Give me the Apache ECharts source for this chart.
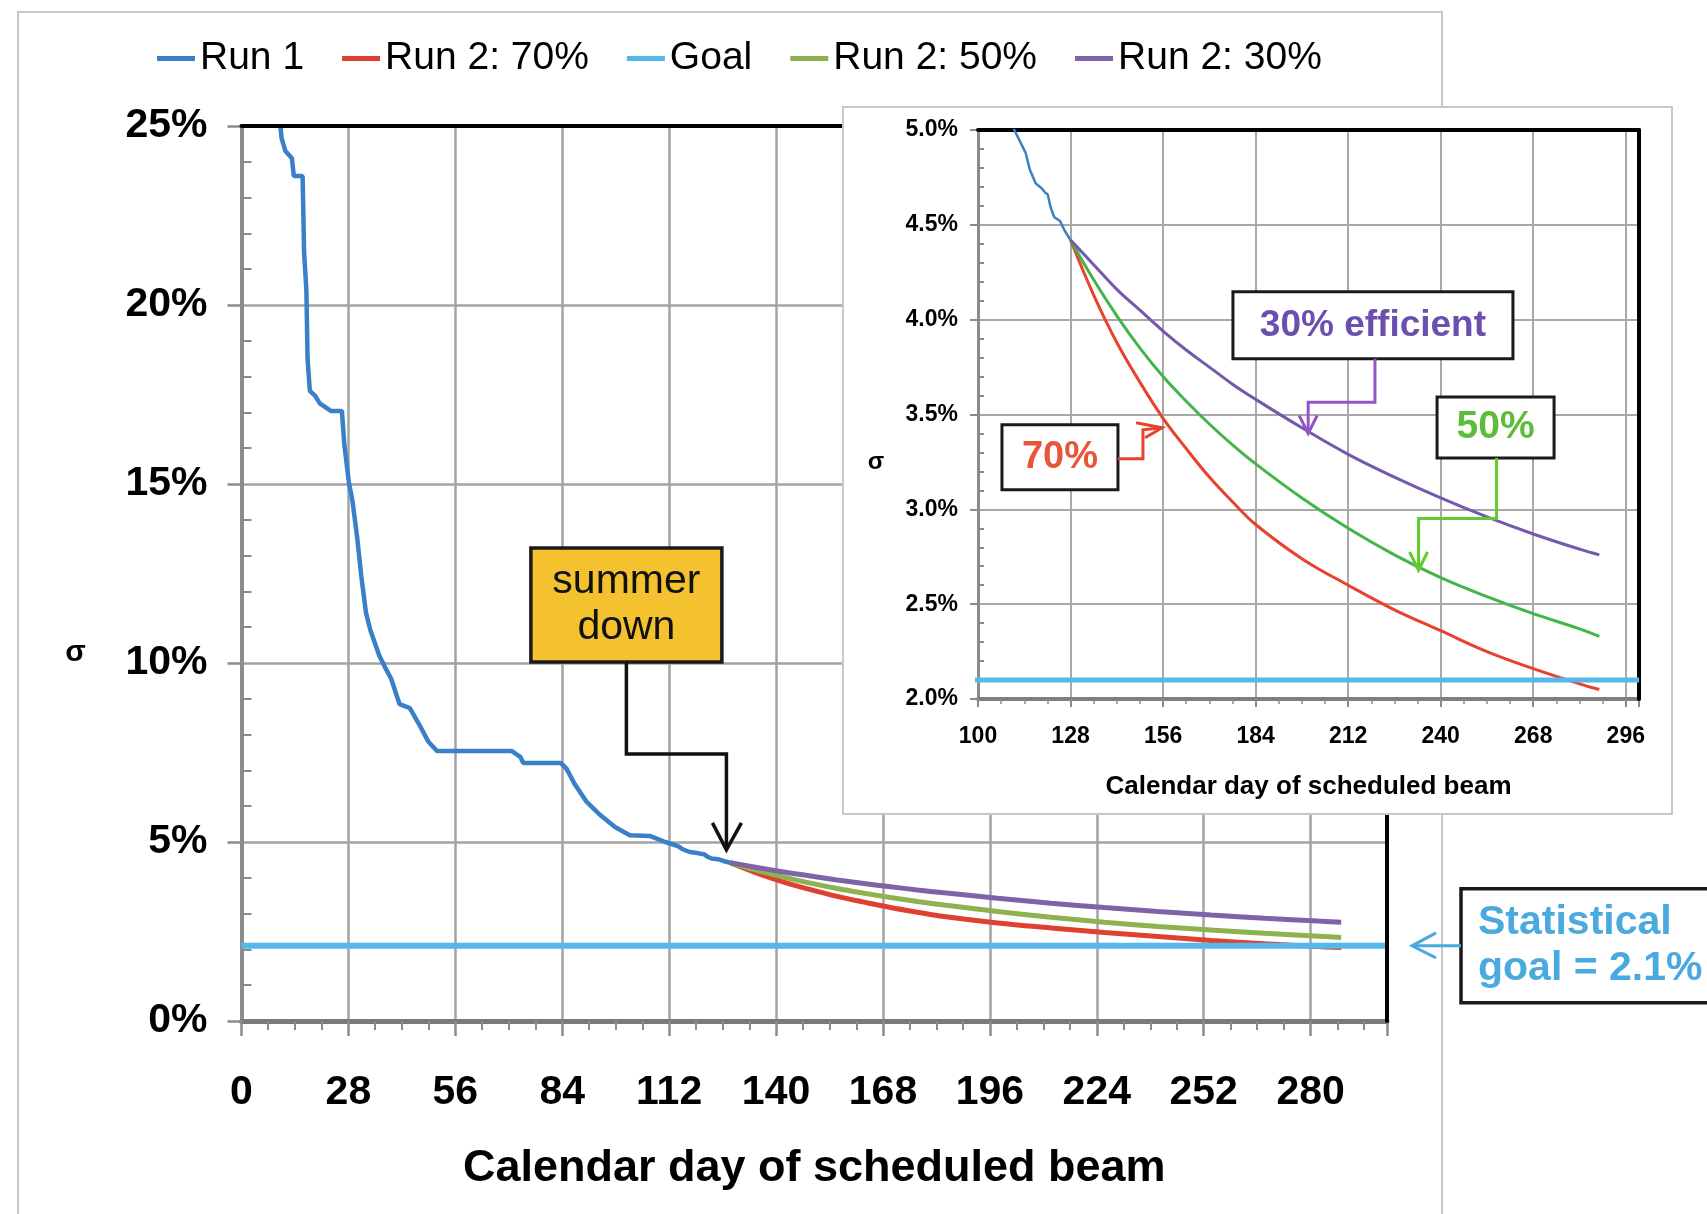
<!DOCTYPE html>
<html><head><meta charset="utf-8">
<script src="https://cdn.jsdelivr.net/npm/echarts@6/dist/echarts.min.js"></script>
<style>html,body{margin:0;padding:0;background:#fff}#c{width:1707px;height:1214px}</style>
</head><body><div id="c"></div>
<script>
// ---------------- data ----------------
const legendNames = ['Run 1', 'Run 2: 70%', 'Goal', 'Run 2: 50%', 'Run 2: 30%'];
const run1Days = [10.2,10.5,11.5,13.2,13.7,16.0,16.4,17.0,17.3,17.9,19.3,20.5,23.4,26.3,26.9,28.1,29.1,30.3,31.4,32.6,33.8,36.1,37.5,39.2,41.4,44.1,46.7,48.9,51.2,70.8,73.0,73.8,83.6,85.1,87.3,90.4,94.1,97.9,101.7,106.9,111.0,112.7,114.4,115.7,117.4,119.4,120.3,121.1,122.0,123.1,124.8,126.2,128.0];
const run1Pct  = [25.0,24.66,24.3,24.1,23.6,23.6,21.46,20.4,18.5,17.6,17.46,17.25,17.04,17.04,16.13,15.06,14.5,13.5,12.4,11.4,10.9,10.2,9.9,9.56,8.85,8.74,8.25,7.81,7.54,7.54,7.38,7.21,7.21,7.05,6.61,6.12,5.74,5.41,5.19,5.17,5.0,4.94,4.88,4.79,4.72,4.69,4.67,4.66,4.59,4.54,4.52,4.47,4.42];
const projDays = [128,135,142,149,156,163,170,177,184,198,212,226,240,254,268,282,288];
const run2_70  = [4.42,4.13,3.88,3.67,3.48,3.32,3.17,3.04,2.92,2.74,2.60,2.47,2.36,2.25,2.16,2.08,2.05];
const run2_50  = [4.42,4.21,4.02,3.85,3.70,3.57,3.45,3.34,3.24,3.06,2.90,2.76,2.64,2.54,2.45,2.37,2.33];
const run2_30  = [4.42,4.29,4.16,4.05,3.94,3.84,3.75,3.66,3.58,3.43,3.29,3.17,3.06,2.96,2.87,2.79,2.76];
const goalDays = [0, 300];
const goalPct  = [2.1, 2.1];
const mainXTicks  = [0,28,56,84,112,140,168,196,224,252,280];
const mainYTicks  = [0,5,10,15,20,25];
const insetXTicks = [100,128,156,184,212,240,268,296];
const insetYTicks = [2.0,2.5,3.0,3.5,4.0,4.5,5.0];

// ---------------- helpers ----------------
const zip = (a, b) => a.map((v, i) => [v, b[i]]);
function measure(fam){
  const c = document.createElement('canvas').getContext('2d');
  c.font = 'bold 50px ' + fam;
  return c.measureText('Calendar day of scheduled beam 0123456789%').width;
}
const NARROW = Math.abs(measure('"Liberation Sans Narrow", monospace') - measure('monospace')) > 2;
const MAINF = NARROW ? '"Liberation Sans Narrow", "Liberation Sans", sans-serif' : '"Liberation Sans", sans-serif';
const SANS = '"Liberation Sans", Arial, sans-serif';
const mainTickSize = NARROW ? 50 : 41;
const mainNameSize = NARROW ? 54 : 45;

const C = {run1:'#3a80c9', red:'#e0402f', goal:'#55b8ea', green:'#8db24f', purple:'#7f63a7',
           iRed:'#e8412c', iGreen:'#43b54b', iPurple:'#7459ad'};

const mainX = [0, 300], mainY = [0, 25], insetX = [100, 300], insetY = [2.0, 5.0];
const gridLine = {color:'#a3a3a3', width:2.5};
const SM = {smooth:0.4};

function borderAxis(kind, grid, pos, ext, interval){
  return {type:'value', gridIndex:grid, position:pos, min:ext[0], max:ext[1], interval:interval, z:3,
    axisLine:{show:true, onZero:false, lineStyle:{color:'#000', width:4}},
    axisTick:{show:false}, axisLabel:{show:false}, splitLine:{show:false}};
}
function minorInner(grid, ext, interval, len){
  return {type:'value', gridIndex:grid, position:'left', min:ext[0], max:ext[1], interval:interval, z:3,
    axisLine:{show:false, onZero:false}, axisTick:{show:false, inside:true},
    minorTick:{show:true, splitNumber:5, length:len, lineStyle:{color:'#8a8a8a', width:2}},
    axisLabel:{show:false}, splitLine:{show:false}};
}

const option = {
  animation:false,
  backgroundColor:'#fff',
  legend:{data:legendNames, left:152, top:34, itemWidth:38, itemHeight:5, itemGap:38, icon:'rect',
    selectedMode:false, textStyle:{fontFamily:SANS, fontSize:39, color:'#000'}},
  grid:[
    {left:241.5, top:126, width:1145.5, height:895, outerBoundsMode:'none', containLabel:false},
    {left:978, top:130, width:661, height:569, outerBoundsMode:'none', containLabel:false, z:6}
  ],
  xAxis:[
    {type:'value', gridIndex:0, position:'bottom', min:mainX[0], max:mainX[1], interval:mainXTicks[1]-mainXTicks[0],
      axisLine:{show:true, onZero:false, lineStyle:{color:'#7a7a7a', width:5}},
      axisTick:{show:true, length:15, lineStyle:{color:'#8c8c8c', width:2.5}},
      minorTick:{show:true, splitNumber:4, length:9, lineStyle:{color:'#8c8c8c', width:2}},
      splitLine:{show:true, lineStyle:gridLine},
      axisLabel:{formatter:v => mainXTicks.includes(v) ? String(v) : '', showMaxLabel:false,
        fontFamily:MAINF, fontWeight:'bold', fontSize:mainTickSize, color:'#000', margin:51},
      name:'Calendar day of scheduled beam', nameLocation:'middle', nameGap:125,
      nameTextStyle:{fontFamily:MAINF, fontWeight:'bold', fontSize:mainNameSize, color:'#000'}},
    borderAxis('x', 0, 'top', mainX, 28),
    {type:'value', gridIndex:1, position:'bottom', min:insetX[0], max:insetX[1], interval:insetXTicks[1]-insetXTicks[0], z:6,
      axisLine:{show:true, onZero:false, lineStyle:{color:'#7f7f7f', width:4}},
      axisTick:{show:true, length:8, lineStyle:{color:'#8c8c8c', width:2}},
      minorTick:{show:true, splitNumber:4, length:5, lineStyle:{color:'#8c8c8c', width:1.5}},
      splitLine:{show:true, lineStyle:{color:'#a8a8a8', width:2}},
      axisLabel:{formatter:v => insetXTicks.includes(v) ? String(v) : '', showMaxLabel:false,
        fontFamily:SANS, fontWeight:'bold', fontSize:23, color:'#000', margin:26},
      name:'Calendar day of scheduled beam', nameLocation:'middle', nameGap:75,
      nameTextStyle:{fontFamily:SANS, fontWeight:'bold', fontSize:26, color:'#000'}},
    Object.assign(borderAxis('x', 1, 'top', insetX, 28), {z:7})
  ],
  yAxis:[
    {type:'value', gridIndex:0, position:'left', min:mainY[0], max:mainY[1], interval:mainYTicks[1]-mainYTicks[0],
      axisLine:{show:true, onZero:false, lineStyle:{color:'#8c8c8c', width:4}},
      axisTick:{show:true, length:14, lineStyle:{color:'#8c8c8c', width:2.5}},
      splitLine:{show:true, lineStyle:gridLine},
      axisLabel:{formatter:v => v + '%', fontFamily:MAINF, fontWeight:'bold', fontSize:mainTickSize, color:'#000', margin:34}},
    minorInner(0, mainY, 5, 10),
    borderAxis('y', 0, 'right', mainY, 5),
    {type:'value', gridIndex:1, position:'left', min:insetY[0], max:insetY[1], interval:insetYTicks[1]-insetYTicks[0], z:6,
      axisLine:{show:true, onZero:false, lineStyle:{color:'#8c8c8c', width:3}},
      axisTick:{show:true, length:8, lineStyle:{color:'#8c8c8c', width:2}},
      splitLine:{show:true, lineStyle:{color:'#a8a8a8', width:2}},
      axisLabel:{formatter:v => v.toFixed(1) + '%', fontFamily:SANS, fontWeight:'bold', fontSize:23, color:'#000', margin:20}},
    Object.assign(minorInner(1, insetY, 0.5, 6), {z:7}),
    Object.assign(borderAxis('y', 1, 'right', insetY, 0.5), {z:7})
  ],
  series:[
    {name:'Run 1', type:'line', xAxisIndex:0, yAxisIndex:0, data:zip(run1Days, run1Pct), symbol:'none',
      lineStyle:{color:C.run1, width:4.5}, itemStyle:{color:C.run1}, z:2},
    Object.assign({name:'Run 2: 70%', type:'line', xAxisIndex:0, yAxisIndex:0, data:zip(projDays, run2_70), symbol:'none',
      lineStyle:{color:C.red, width:5}, itemStyle:{color:C.red}, z:2}, SM),
    {name:'Goal', type:'line', xAxisIndex:0, yAxisIndex:0, data:zip(goalDays, goalPct), symbol:'none',
      lineStyle:{color:C.goal, width:6}, itemStyle:{color:C.goal}, z:2},
    Object.assign({name:'Run 2: 50%', type:'line', xAxisIndex:0, yAxisIndex:0, data:zip(projDays, run2_50), symbol:'none',
      lineStyle:{color:C.green, width:5}, itemStyle:{color:C.green}, z:2}, SM),
    Object.assign({name:'Run 2: 30%', type:'line', xAxisIndex:0, yAxisIndex:0, data:zip(projDays, run2_30), symbol:'none',
      lineStyle:{color:C.purple, width:5}, itemStyle:{color:C.purple}, z:2}, SM),
    // inset
    {name:'Run 1', type:'line', xAxisIndex:2, yAxisIndex:3, data:zip(run1Days, run1Pct), symbol:'none', clip:true,
      lineStyle:{color:C.run1, width:2.5}, itemStyle:{color:C.run1}, z:8},
    Object.assign({name:'Run 2: 70%', type:'line', xAxisIndex:2, yAxisIndex:3, data:zip(projDays, run2_70), symbol:'none', clip:true,
      lineStyle:{color:C.iRed, width:3}, itemStyle:{color:C.iRed}, z:8}, SM),
    {name:'Goal', type:'line', xAxisIndex:2, yAxisIndex:3, data:zip(goalDays, goalPct), symbol:'none', clip:true,
      lineStyle:{color:C.goal, width:5}, itemStyle:{color:C.goal}, z:8},
    Object.assign({name:'Run 2: 50%', type:'line', xAxisIndex:2, yAxisIndex:3, data:zip(projDays, run2_50), symbol:'none', clip:true,
      lineStyle:{color:C.iGreen, width:3}, itemStyle:{color:C.iGreen}, z:8}, SM),
    Object.assign({name:'Run 2: 30%', type:'line', xAxisIndex:2, yAxisIndex:3, data:zip(projDays, run2_30), symbol:'none', clip:true,
      lineStyle:{color:C.iPurple, width:3}, itemStyle:{color:C.iPurple}, z:8}, SM)
  ]
};

const chart = echarts.init(document.getElementById('c'), null, {renderer:'canvas'});
chart.setOption(option);

// ---------------- annotations (anchored to data coordinates) ----------------
const P0 = (d, p) => chart.convertToPixel({gridIndex:0}, [d, p]);
const P1 = (d, p) => chart.convertToPixel({gridIndex:1}, [d, p]);
const G = [];
const line = (pts, color, w, z) => G.push({type:'polyline', silent:true, z:z, shape:{points:pts}, style:{stroke:color, lineWidth:w, fill:null, lineJoin:'miter'}});
const box = (cx, cy, w, h, fill, stroke, lw, z) => G.push({type:'rect', silent:true, z:z, shape:{x:cx - w/2, y:cy - h/2, width:w, height:h}, style:{fill:fill, stroke:stroke, lineWidth:lw}});
const txt = (x, y, s, size, weight, color, align, z, lh) => G.push({type:'text', silent:true, z:z, x:x, y:y,
  style:{text:s, fontFamily:SANS, fontSize:size, fontWeight:weight, fill:color, align:align, verticalAlign:'middle', lineHeight:lh || size * 1.15}});

// outer frame and inset frame
G.push({type:'rect', silent:true, z:-1, shape:{x:18, y:12, width:1424, height:1240}, style:{fill:null, stroke:'#c6c6c6', lineWidth:2}});
G.push({type:'rect', silent:true, z:5, shape:{x:843, y:107, width:829, height:707}, style:{fill:'#fff', stroke:'#c8c8c8', lineWidth:2}});

// y-axis name glyphs
const gy0 = P0(0, 10.3);
txt(gy0[0] - 166, gy0[1], 'σ', 30, 'bold', '#000', 'center', 4);
const gy1 = P1(100, 3.25);
txt(gy1[0] - 102, gy1[1], 'σ', 24, 'bold', '#000', 'center', 9);

// summer down
const sb = P0(100.8, 11.62), sTip = P0(127, 4.78);
box(sb[0], sb[1], 191, 114, '#f4c12f', '#1a1a1a', 3.5, 10);
txt(sb[0], sb[1], 'summer\ndown', 41, 'normal', '#111', 'center', 11, 46);
line([[sb[0], sb[1] + 57], [sb[0], sTip[1] - 96], [sTip[0], sTip[1] - 96], [sTip[0], sTip[1]]], '#111', 3.5, 10);
line([[sTip[0] - 14, sTip[1] - 27], [sTip[0], sTip[1]], [sTip[0] + 15, sTip[1] - 27]], '#111', 3.5, 10);

// statistical goal
const gR = P0(300, 2.1);
const gbx = gR[0] + 74;
G.push({type:'rect', silent:true, z:10, shape:{x:gbx, y:gR[1] - 57, width:280, height:114}, style:{fill:'#fff', stroke:'#1a1a1a', lineWidth:3.5}});
txt(gbx + 17, gR[1] - 23, 'Statistical', 41, 'bold', '#4aa9df', 'left', 11);
txt(gbx + 17, gR[1] + 23, 'goal = 2.1%', 41, 'bold', '#4aa9df', 'left', 11);
line([[gbx, gR[1]], [gR[0] + 25, gR[1]]], '#4aa9df', 3, 10);
line([[gR[0] + 49, gR[1] - 13], [gR[0] + 25, gR[1]], [gR[0] + 49, gR[1] + 12]], '#4aa9df', 3, 10);

// inset: 30% efficient
const pb = P1(219.5, 3.97), pTip = P1(199.9, 3.40);
box(pb[0], pb[1], 280, 67, '#fff', '#1a1a1a', 3, 20);
txt(pb[0], pb[1], '30% efficient', 37, 'bold', '#6b4fae', 'center', 21);
line([[pb[0] + 2, pb[1] + 33.5], [pb[0] + 2, pb[1] + 77], [pTip[0], pb[1] + 77], [pTip[0], pTip[1]]], '#9254c8', 3, 20);
line([[pTip[0] - 9, pTip[1] - 18], [pTip[0], pTip[1]], [pTip[0] + 9, pTip[1] - 18]], '#9254c8', 3, 20);

// inset: 50%
const gb = P1(256.6, 3.432), gTip = P1(233.3, 2.68);
box(gb[0], gb[1], 117, 61, '#fff', '#1a1a1a', 3, 20);
txt(gb[0], gb[1], '50%', 39, 'bold', '#5dbd3b', 'center', 21);
line([[gb[0] + 1, gb[1] + 30.5], [gb[0] + 1, gb[1] + 91], [gTip[0], gb[1] + 91], [gTip[0], gTip[1]]], '#62c92f', 3, 20);
line([[gTip[0] - 9, gTip[1] - 18], [gTip[0], gTip[1]], [gTip[0] + 9, gTip[1] - 18]], '#62c92f', 3, 20);

// inset: 70%
const rb = P1(124.8, 3.274), rTip = P1(155.7, 3.43);
box(rb[0], rb[1], 116, 65, '#fff', '#1a1a1a', 3, 20);
txt(rb[0], rb[1], '70%', 38, 'bold', '#e6573a', 'center', 21);
line([[rb[0] + 58, rb[1] + 1.5], [rb[0] + 83, rb[1] + 1.5], [rb[0] + 83, rTip[1] + 2], [rTip[0], rTip[1]]], '#e8412c', 3, 20);
line([[rTip[0] - 26, rTip[1] - 5], [rTip[0], rTip[1]], [rTip[0] - 17, rTip[1] + 10]], '#e8412c', 3, 20);

chart.setOption({graphic:G});
</script></body></html>
